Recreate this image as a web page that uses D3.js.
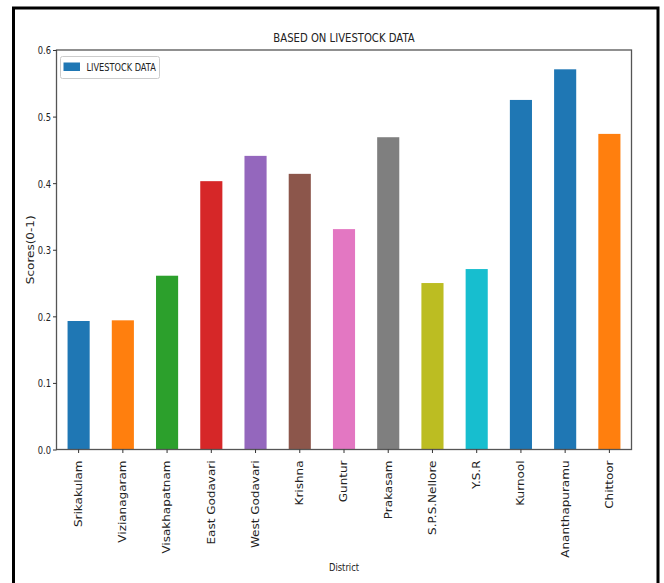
<!DOCTYPE html>
<html>
<head>
<meta charset="utf-8">
<script src="https://cdn.jsdelivr.net/npm/d3@7"></script>
<style>
  body { margin: 0; background: #fff; }
  text { font-family: "DejaVu Sans", sans-serif; fill: #222; }
</style>
</head>
<body>
<svg id="chart" width="664" height="583"></svg>
<script>
// District scores on livestock data (0-1 scale)
const districts = ["Srikakulam", "Vizianagaram", "Visakhapatnam", "East Godavari", "West Godavari",
  "Krishna", "Guntur", "Prakasam", "S.P.S.Nellore", "Y.S.R", "Kurnool", "Ananthapuramu", "Chittoor"];
const scores = [0.193, 0.194, 0.261, 0.403, 0.441, 0.414, 0.331, 0.469, 0.250, 0.271, 0.525, 0.571, 0.474];
const yTicks = [0.0, 0.1, 0.2, 0.3, 0.4, 0.5, 0.6];
const barColors = ["#1f77b4", "#ff7f0e", "#2ca02c", "#d62728", "#9467bd", "#8c564b", "#e377c2",
  "#7f7f7f", "#bcbd22", "#17becf", "#1f77b4", "#1f77b4", "#ff7f0e"];
const titleText = "BASED ON LIVESTOCK DATA";
const legendLabel = "LIVESTOCK DATA";
const xTitle = "District";
const yTitle = "Scores(0-1)";

const svg = d3.select("#chart");
const plot = { left: 56.5, right: 631.5, top: 50, bottom: 449.5 };
const squeeze = 0.8; // horizontal condensing applied to all text

const x = d3.scaleBand()
  .domain(districts)
  .range([plot.left, plot.right])
  .paddingInner(0.5)
  .paddingOuter(0.25);

const y = d3.scaleLinear()
  .domain([0, 0.6])
  .range([plot.bottom, plot.top]);

// outer frame (left, top, right edges)
svg.append("path")
  .attr("d", "M13.5,583 L13.5,8 L658,8 L658,583")
  .attr("fill", "none")
  .attr("stroke", "#000")
  .attr("stroke-width", 3);

// bars
svg.append("g").selectAll("rect")
  .data(districts)
  .join("rect")
  .attr("x", d => x(d))
  .attr("width", x.bandwidth())
  .attr("y", (d, i) => y(scores[i]))
  .attr("height", (d, i) => y(0) - y(scores[i]))
  .attr("fill", (d, i) => barColors[i]);

// axes box
svg.append("rect")
  .attr("x", plot.left).attr("y", plot.top)
  .attr("width", plot.right - plot.left)
  .attr("height", plot.bottom - plot.top)
  .attr("fill", "none")
  .attr("stroke", "#555")
  .attr("stroke-width", 1.3);

// y axis
const yAxis = svg.append("g")
  .attr("transform", `translate(${plot.left},0)`)
  .call(d3.axisLeft(y).tickValues(yTicks).tickFormat(d3.format(".1f")).tickSize(3.5).tickPadding(2));
yAxis.select(".domain").remove();
yAxis.selectAll("line").attr("stroke", "#333");
yAxis.selectAll("text")
  .attr("font-size", 11)
  .attr("x", null).attr("dy", "0.36em")
  .attr("transform", `translate(-5.5,0) scale(${squeeze * 0.95},1)`);

// x axis
const xAxis = svg.append("g")
  .attr("transform", `translate(0,${plot.bottom})`)
  .call(d3.axisBottom(x).tickSize(3.5).tickPadding(0));
xAxis.select(".domain").remove();
xAxis.selectAll("line").attr("stroke", "#333");
xAxis.selectAll("text")
  .attr("font-size", 12)
  .attr("x", 0).attr("y", 0).attr("dy", "0.35em")
  .attr("text-anchor", "end")
  .attr("transform", `translate(0,11) scale(${squeeze},1) rotate(-90)`);

// title
svg.append("text")
  .attr("transform", `translate(${(plot.left + plot.right) / 2},42) scale(${squeeze + 0.02},1)`)
  .attr("text-anchor", "middle")
  .attr("font-size", 12.3)
  .text(titleText);

// axis titles
svg.append("text")
  .attr("transform", `translate(${(plot.left + plot.right) / 2},571) scale(${squeeze},1)`)
  .attr("text-anchor", "middle")
  .attr("font-size", 10.5)
  .text(xTitle);

svg.append("text")
  .attr("transform", `translate(34,${(plot.top + plot.bottom) / 2}) scale(${squeeze},1) rotate(-90)`)
  .attr("text-anchor", "middle")
  .attr("font-size", 12)
  .text(yTitle);

// legend
const legend = svg.append("g");
legend.append("rect")
  .attr("x", 60.5).attr("y", 56.5).attr("width", 99).attr("height", 22)
  .attr("rx", 2).attr("fill", "#fff").attr("stroke", "#ccc");
legend.append("rect")
  .attr("x", 63.5).attr("y", 62.5).attr("width", 16.5).attr("height", 8.5)
  .attr("fill", barColors[0]);
legend.append("text")
  .attr("transform", `translate(86.5,71) scale(0.76,1)`)
  .attr("font-size", 10.8)
  .text(legendLabel);
</script>
</body>
</html>
